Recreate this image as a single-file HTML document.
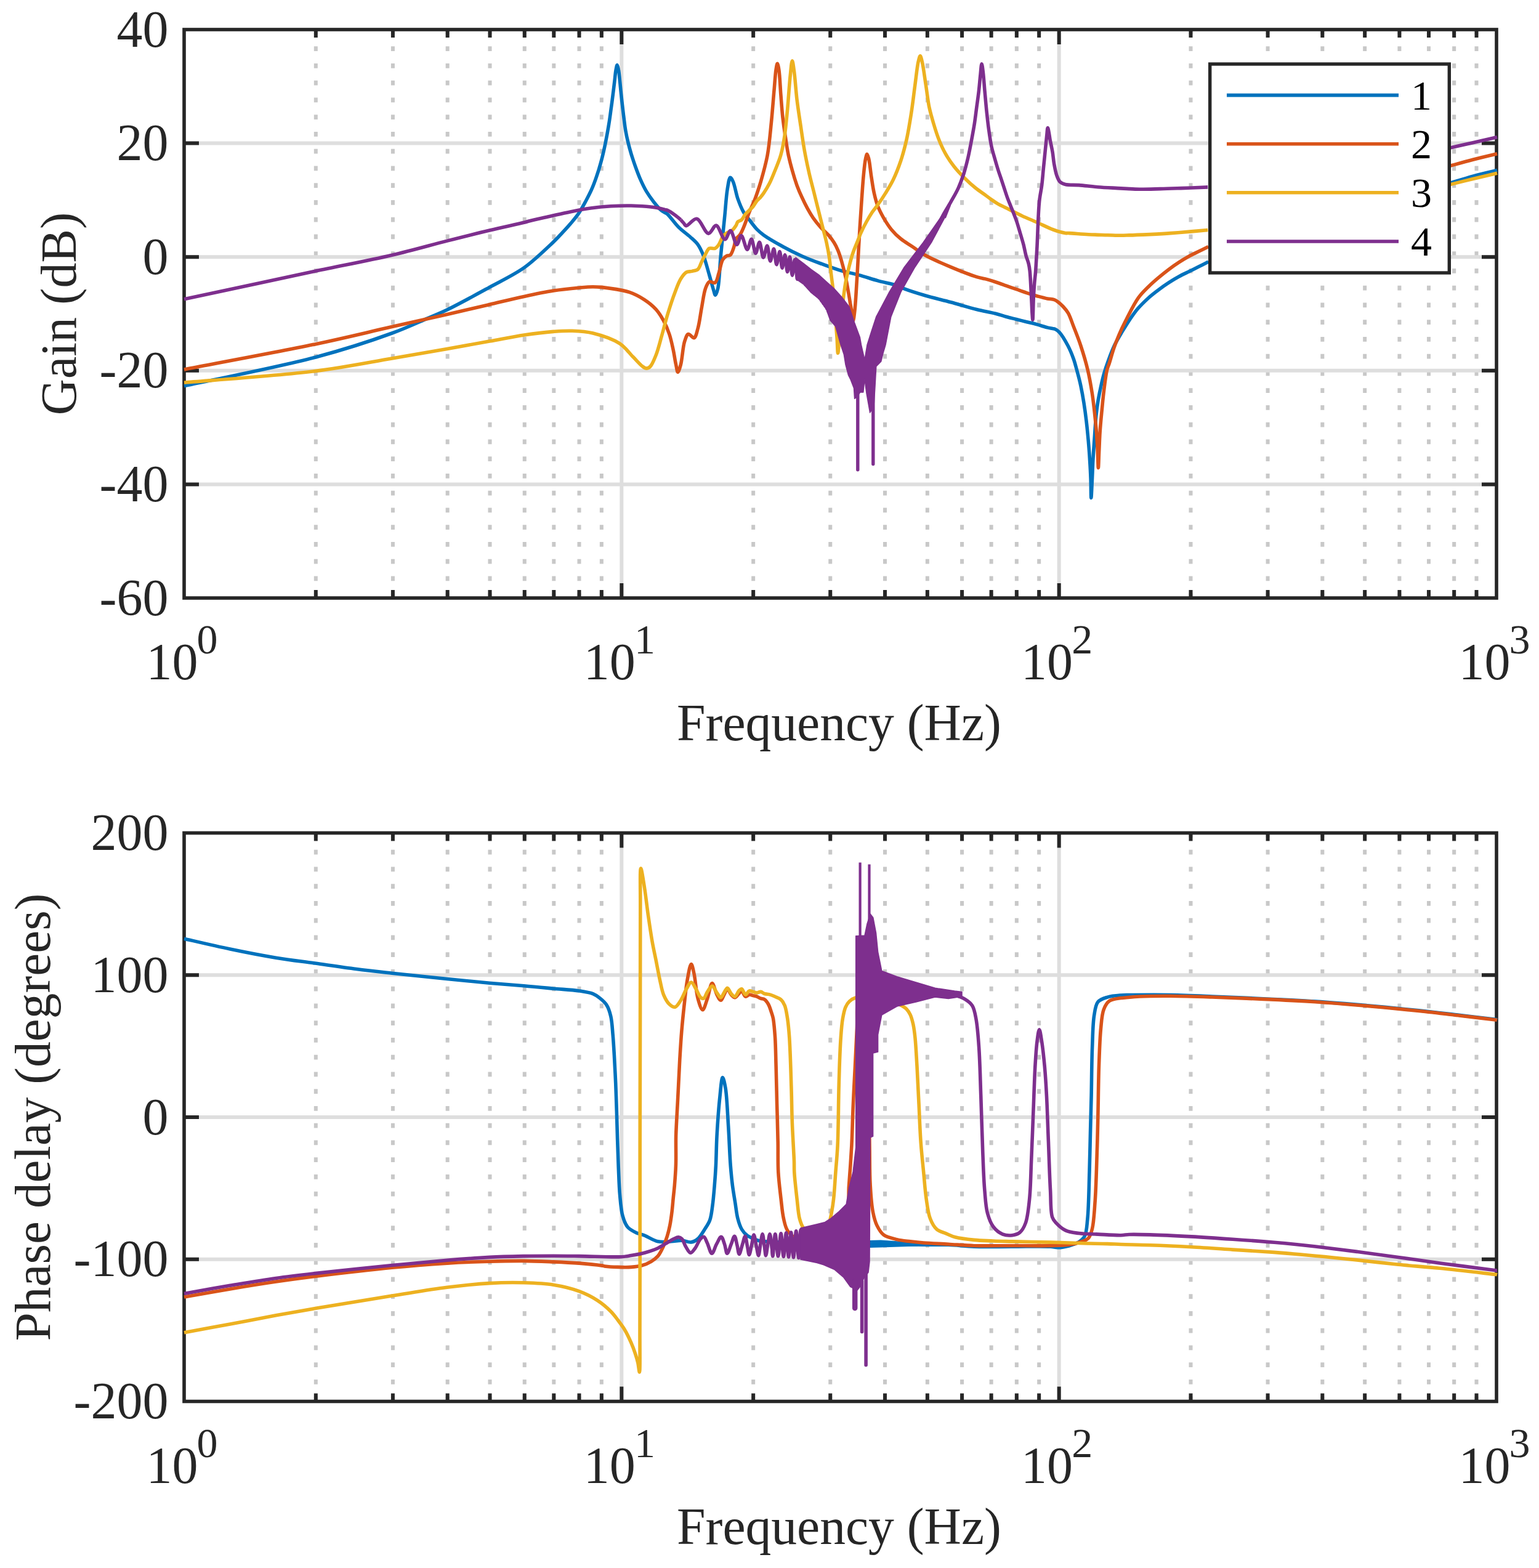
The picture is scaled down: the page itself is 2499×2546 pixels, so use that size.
<!DOCTYPE html>
<html><head><meta charset="utf-8"><style>
html,body{margin:0;padding:0;background:#fff;}
body{width:2499px;height:2546px;overflow:hidden;}
svg{display:block;}
.tl{font-family:"Liberation Serif","Times New Roman",serif;font-size:84px;fill:#262626;}
.sup{font-size:68px;}
.lg{font-family:"Liberation Serif","Times New Roman",serif;font-size:68px;fill:#000;}
</style></head><body>
<svg width="2499" height="2546" viewBox="0 0 2499 2546">
<rect width="2499" height="2546" fill="#ffffff"/>
<line x1="512.83" y1="47.50" x2="512.83" y2="971.00" stroke="#c8c8c8" stroke-width="6" stroke-dasharray="7.7 20.05"/>
<line x1="637.92" y1="47.50" x2="637.92" y2="971.00" stroke="#c8c8c8" stroke-width="6" stroke-dasharray="7.7 20.05"/>
<line x1="726.66" y1="47.50" x2="726.66" y2="971.00" stroke="#c8c8c8" stroke-width="6" stroke-dasharray="7.7 20.05"/>
<line x1="795.50" y1="47.50" x2="795.50" y2="971.00" stroke="#c8c8c8" stroke-width="6" stroke-dasharray="7.7 20.05"/>
<line x1="851.75" y1="47.50" x2="851.75" y2="971.00" stroke="#c8c8c8" stroke-width="6" stroke-dasharray="7.7 20.05"/>
<line x1="899.30" y1="47.50" x2="899.30" y2="971.00" stroke="#c8c8c8" stroke-width="6" stroke-dasharray="7.7 20.05"/>
<line x1="940.49" y1="47.50" x2="940.49" y2="971.00" stroke="#c8c8c8" stroke-width="6" stroke-dasharray="7.7 20.05"/>
<line x1="976.83" y1="47.50" x2="976.83" y2="971.00" stroke="#c8c8c8" stroke-width="6" stroke-dasharray="7.7 20.05"/>
<line x1="1223.16" y1="47.50" x2="1223.16" y2="971.00" stroke="#c8c8c8" stroke-width="6" stroke-dasharray="7.7 20.05"/>
<line x1="1348.25" y1="47.50" x2="1348.25" y2="971.00" stroke="#c8c8c8" stroke-width="6" stroke-dasharray="7.7 20.05"/>
<line x1="1437.00" y1="47.50" x2="1437.00" y2="971.00" stroke="#c8c8c8" stroke-width="6" stroke-dasharray="7.7 20.05"/>
<line x1="1505.84" y1="47.50" x2="1505.84" y2="971.00" stroke="#c8c8c8" stroke-width="6" stroke-dasharray="7.7 20.05"/>
<line x1="1562.08" y1="47.50" x2="1562.08" y2="971.00" stroke="#c8c8c8" stroke-width="6" stroke-dasharray="7.7 20.05"/>
<line x1="1609.63" y1="47.50" x2="1609.63" y2="971.00" stroke="#c8c8c8" stroke-width="6" stroke-dasharray="7.7 20.05"/>
<line x1="1650.83" y1="47.50" x2="1650.83" y2="971.00" stroke="#c8c8c8" stroke-width="6" stroke-dasharray="7.7 20.05"/>
<line x1="1687.16" y1="47.50" x2="1687.16" y2="971.00" stroke="#c8c8c8" stroke-width="6" stroke-dasharray="7.7 20.05"/>
<line x1="1933.50" y1="47.50" x2="1933.50" y2="971.00" stroke="#c8c8c8" stroke-width="6" stroke-dasharray="7.7 20.05"/>
<line x1="2058.58" y1="47.50" x2="2058.58" y2="971.00" stroke="#c8c8c8" stroke-width="6" stroke-dasharray="7.7 20.05"/>
<line x1="2147.33" y1="47.50" x2="2147.33" y2="971.00" stroke="#c8c8c8" stroke-width="6" stroke-dasharray="7.7 20.05"/>
<line x1="2216.17" y1="47.50" x2="2216.17" y2="971.00" stroke="#c8c8c8" stroke-width="6" stroke-dasharray="7.7 20.05"/>
<line x1="2272.41" y1="47.50" x2="2272.41" y2="971.00" stroke="#c8c8c8" stroke-width="6" stroke-dasharray="7.7 20.05"/>
<line x1="2319.97" y1="47.50" x2="2319.97" y2="971.00" stroke="#c8c8c8" stroke-width="6" stroke-dasharray="7.7 20.05"/>
<line x1="2361.16" y1="47.50" x2="2361.16" y2="971.00" stroke="#c8c8c8" stroke-width="6" stroke-dasharray="7.7 20.05"/>
<line x1="2397.50" y1="47.50" x2="2397.50" y2="971.00" stroke="#c8c8c8" stroke-width="6" stroke-dasharray="7.7 20.05"/>
<line x1="1009.33" y1="48.00" x2="1009.33" y2="971.00" stroke="#dedede" stroke-width="6"/>
<line x1="1719.67" y1="48.00" x2="1719.67" y2="971.00" stroke="#dedede" stroke-width="6"/>
<line x1="299.00" y1="232.60" x2="2430.00" y2="232.60" stroke="#dedede" stroke-width="6"/>
<line x1="299.00" y1="417.20" x2="2430.00" y2="417.20" stroke="#dedede" stroke-width="6"/>
<line x1="299.00" y1="601.80" x2="2430.00" y2="601.80" stroke="#dedede" stroke-width="6"/>
<line x1="299.00" y1="786.40" x2="2430.00" y2="786.40" stroke="#dedede" stroke-width="6"/>
<path d="M512.83 48.00V61.00M512.83 971.00V958.00M637.92 48.00V61.00M637.92 971.00V958.00M726.66 48.00V61.00M726.66 971.00V958.00M795.50 48.00V61.00M795.50 971.00V958.00M851.75 48.00V61.00M851.75 971.00V958.00M899.30 48.00V61.00M899.30 971.00V958.00M940.49 48.00V61.00M940.49 971.00V958.00M976.83 48.00V61.00M976.83 971.00V958.00M1009.33 48.00V72.00M1009.33 971.00V947.00M1223.16 48.00V61.00M1223.16 971.00V958.00M1348.25 48.00V61.00M1348.25 971.00V958.00M1437.00 48.00V61.00M1437.00 971.00V958.00M1505.84 48.00V61.00M1505.84 971.00V958.00M1562.08 48.00V61.00M1562.08 971.00V958.00M1609.63 48.00V61.00M1609.63 971.00V958.00M1650.83 48.00V61.00M1650.83 971.00V958.00M1687.16 48.00V61.00M1687.16 971.00V958.00M1719.67 48.00V72.00M1719.67 971.00V947.00M1933.50 48.00V61.00M1933.50 971.00V958.00M2058.58 48.00V61.00M2058.58 971.00V958.00M2147.33 48.00V61.00M2147.33 971.00V958.00M2216.17 48.00V61.00M2216.17 971.00V958.00M2272.41 48.00V61.00M2272.41 971.00V958.00M2319.97 48.00V61.00M2319.97 971.00V958.00M2361.16 48.00V61.00M2361.16 971.00V958.00M2397.50 48.00V61.00M2397.50 971.00V958.00M299.00 232.60H323.00M2430.00 232.60H2406.00M299.00 417.20H323.00M2430.00 417.20H2406.00M299.00 601.80H323.00M2430.00 601.80H2406.00M299.00 786.40H323.00M2430.00 786.40H2406.00" stroke="#262626" stroke-width="6" fill="none"/>
<rect x="299.00" y="48.00" width="2131.00" height="923.00" fill="none" stroke="#262626" stroke-width="5.6"/>
<g fill="none" stroke-width="5.6" stroke-linejoin="round" stroke-linecap="butt">
<path d="M299.0,626.8C334.4,619.0 450.4,596.4 511.6,580.2C559.0,567.6 603.0,553.3 636.5,541.0C659.6,532.6 677.9,523.8 694.3,516.8C706.4,511.6 713.5,509.0 726.0,503.0C744.7,494.0 773.2,478.3 795.0,466.4C814.7,455.7 834.1,446.6 850.9,434.8C866.5,423.7 882.3,408.2 893.0,398.3C899.9,391.9 904.0,387.5 909.5,381.8C915.0,376.0 920.9,369.6 926.0,363.7C930.7,358.1 935.1,353.1 939.2,347.2C943.4,341.0 947.1,334.0 950.7,327.4C954.2,320.8 957.6,314.4 960.6,307.6C963.7,300.7 966.4,293.3 968.8,286.1C971.3,279.0 973.5,271.7 975.4,264.7C977.3,258.0 978.9,251.5 980.4,244.9C981.9,238.3 983.2,232.0 984.5,225.1C985.9,217.7 987.4,209.7 988.6,202.0C989.9,194.4 990.9,186.8 991.9,179.0C993.1,170.8 994.2,162.5 995.2,154.2C996.3,146.0 997.3,136.9 998.2,129.5C998.9,123.4 999.3,117.4 1000.2,113.0C1000.8,110.0 1001.5,105.6 1002.2,105.6C1002.8,105.6 1003.7,109.8 1004.3,113.0C1005.4,118.2 1006.0,127.0 1006.8,134.4C1007.6,142.4 1008.3,150.7 1009.3,159.2C1010.2,168.2 1011.4,178.1 1012.5,187.2C1013.6,195.7 1014.5,204.2 1015.8,211.9C1017.0,218.9 1018.4,225.3 1020.0,231.7C1021.5,237.9 1023.1,243.7 1024.9,249.9C1026.9,256.3 1029.1,263.0 1031.5,269.7C1034.0,276.7 1036.7,284.2 1039.8,291.1C1042.8,297.9 1046.0,304.7 1049.7,310.9C1053.2,316.8 1057.2,322.3 1061.2,327.4C1064.9,332.1 1069.1,337.4 1072.7,340.6C1075.3,342.8 1078.0,344.2 1080.0,345.5C1081.4,346.4 1082.2,346.3 1083.7,347.6C1087.7,351.0 1095.8,362.9 1102.3,369.3C1108.2,375.1 1115.4,379.8 1120.8,384.7C1125.5,389.0 1129.7,392.2 1133.2,397.1C1137.0,402.4 1139.7,408.6 1142.5,415.7C1146.0,424.5 1149.0,437.2 1151.8,446.6C1154.1,454.5 1156.1,462.3 1157.9,468.3C1159.3,472.5 1160.4,479.1 1161.7,479.1C1162.9,479.1 1164.5,473.3 1165.7,468.3C1168.1,457.4 1168.6,433.9 1170.3,415.7C1172.2,395.9 1174.6,373.0 1176.5,353.8C1178.2,337.2 1179.1,319.5 1181.1,307.4C1182.5,299.6 1183.7,288.6 1185.8,288.2C1187.1,288.0 1188.9,291.9 1190.4,295.1C1193.2,301.1 1195.1,314.3 1198.1,322.9C1200.9,330.7 1203.9,338.5 1207.4,344.5C1210.3,349.4 1213.4,352.6 1216.7,356.9C1220.5,361.8 1224.9,368.0 1229.1,372.4C1232.7,376.1 1235.3,378.2 1240.0,381.7C1247.5,387.1 1260.5,394.5 1270.9,400.2C1281.1,405.8 1291.4,411.0 1301.9,415.7C1312.1,420.3 1322.4,424.2 1332.8,428.0C1343.1,431.9 1353.3,435.8 1363.7,438.9C1374.0,441.9 1384.4,443.8 1394.6,446.6C1405.0,449.4 1415.2,453.0 1425.6,455.9C1435.8,458.7 1448.7,460.9 1456.5,463.6C1461.5,465.3 1463.4,467.0 1468.4,468.9C1476.7,472.1 1490.1,476.3 1502.0,479.8C1515.2,483.7 1530.0,487.0 1544.0,490.8C1558.0,494.6 1573.0,499.3 1586.0,502.5C1597.0,505.2 1608.1,506.9 1616.8,509.2C1623.3,510.9 1628.0,512.7 1633.6,514.3C1639.2,515.8 1644.8,517.1 1650.4,518.5C1656.0,519.9 1661.6,521.3 1667.2,522.7C1672.8,524.1 1678.4,525.4 1684.0,526.9C1689.6,528.4 1696.1,530.7 1700.8,531.9C1704.1,532.7 1706.9,533.1 1709.2,533.6C1710.8,533.9 1711.9,533.8 1713.4,534.5C1715.4,535.4 1717.7,536.8 1720.0,539.3C1724.2,543.7 1730.0,553.6 1733.9,561.0C1737.7,568.1 1740.7,575.7 1743.2,582.7C1745.5,589.1 1746.8,594.7 1748.6,601.3C1750.7,608.9 1753.0,617.4 1754.8,625.9C1756.7,634.9 1758.4,644.2 1759.9,653.7C1761.5,663.7 1762.9,674.3 1764.1,684.6C1765.3,694.9 1766.3,705.3 1767.2,715.6C1768.1,725.9 1768.9,736.2 1769.5,746.5C1770.2,756.8 1770.7,767.2 1771.1,777.5C1771.5,787.8 1771.4,808.4 1771.8,808.4C1772.2,808.4 1772.9,789.6 1773.4,779.4C1774.0,768.2 1774.3,755.7 1775.0,743.9C1775.7,732.0 1776.6,720.0 1777.4,708.3C1778.2,697.0 1778.7,685.5 1779.8,675.1C1780.8,665.9 1781.9,657.5 1783.3,649.0C1784.7,640.9 1786.4,632.7 1788.1,625.3C1789.6,618.6 1790.9,612.8 1792.8,606.3C1794.8,599.4 1797.2,592.2 1799.9,585.0C1802.7,577.3 1805.8,568.9 1809.4,561.3C1812.9,553.9 1816.9,547.3 1821.3,539.9C1826.3,531.6 1832.8,521.0 1837.9,513.8C1841.7,508.4 1844.3,504.8 1848.4,500.2C1853.1,494.8 1859.3,488.8 1864.9,483.7C1870.3,478.9 1875.8,474.7 1881.4,470.5C1886.8,466.4 1892.3,462.5 1897.9,458.9C1903.3,455.4 1908.8,452.0 1914.4,449.0C1919.8,446.0 1925.4,443.5 1930.9,440.8C1936.4,438.0 1942.0,435.2 1947.4,432.5C1952.5,430.0 1959.7,426.3 1962.2,425.1" stroke="#0072BD"/>
<path d="M2354.6,297.2C2360.8,295.4 2379.2,289.5 2391.6,286.1C2403.9,282.8 2423.5,278.3 2428.6,277.1C2429.9,276.7 2430.6,276.6 2431.0,276.5" stroke="#0072BD"/>
<path d="M299.0,599.9C334.4,593.1 450.2,571.8 511.6,558.9C558.8,549.0 598.3,539.2 636.5,530.6C668.8,523.3 698.1,516.8 726.0,510.5C750.5,504.8 773.2,499.5 795.0,494.4C814.6,489.8 832.9,485.2 850.9,481.4C867.4,477.8 883.2,474.4 898.6,472.0C913.0,469.8 928.6,468.3 940.4,467.2C949.0,466.4 956.1,465.7 962.8,465.7C968.0,465.7 970.9,465.8 976.9,466.4C987.7,467.7 1009.3,470.3 1021.9,474.4C1031.6,477.7 1039.2,482.0 1046.6,486.8C1053.5,491.3 1059.9,496.5 1065.2,502.3C1070.2,507.9 1074.0,514.2 1077.5,520.8C1081.2,527.6 1084.3,534.9 1086.8,542.5C1089.5,550.4 1091.2,558.9 1093.0,567.2C1094.8,575.4 1096.1,585.2 1097.6,592.0C1098.7,596.8 1099.5,604.3 1100.7,604.3C1102.0,604.4 1103.9,597.3 1105.4,592.0C1107.8,583.0 1108.7,563.8 1111.5,554.9C1113.3,549.5 1114.9,543.2 1117.7,542.5C1120.2,541.8 1124.6,549.4 1127.0,548.7C1130.0,547.7 1131.4,539.5 1133.2,533.2C1135.8,524.2 1137.3,510.2 1139.4,499.2C1141.4,488.6 1142.8,475.8 1145.6,468.3C1147.3,463.5 1148.9,458.8 1151.8,457.4C1154.2,456.2 1158.6,460.3 1161.0,459.0C1164.3,457.2 1165.3,449.2 1167.2,443.5C1169.5,437.0 1170.6,426.7 1173.4,421.9C1175.2,418.9 1177.3,416.9 1179.6,415.7C1181.5,414.6 1184.0,415.6 1185.8,414.1C1188.5,411.8 1190.4,404.8 1192.0,400.2C1193.4,396.0 1193.2,391.1 1195.1,387.8C1196.6,385.2 1199.4,384.3 1201.2,381.7C1203.6,378.4 1205.3,374.2 1207.4,369.3C1210.4,362.5 1213.5,352.5 1216.7,344.5C1219.7,337.0 1223.0,330.6 1226.0,322.9C1229.3,314.3 1232.2,305.4 1235.3,295.1C1239.0,282.3 1243.4,267.0 1246.2,251.8C1249.2,235.2 1250.6,216.7 1252.4,199.2C1254.2,181.7 1255.6,162.2 1257.0,146.6C1258.1,134.0 1258.9,120.3 1260.1,112.6C1260.8,108.5 1261.5,103.3 1262.3,103.3C1263.0,103.3 1264.0,108.4 1264.7,112.6C1266.2,121.2 1266.8,139.7 1267.8,152.8C1268.8,165.4 1269.6,177.8 1270.9,189.9C1272.2,201.5 1273.9,213.2 1275.6,223.9C1277.0,233.7 1278.3,242.8 1280.2,251.8C1282.0,260.3 1284.1,268.3 1286.4,276.5C1288.7,284.8 1291.4,293.6 1294.1,301.2C1296.6,307.9 1299.0,313.7 1301.9,319.8C1304.7,326.0 1307.9,332.5 1311.1,338.4C1314.1,343.8 1316.9,348.8 1320.4,353.8C1324.1,359.1 1328.5,364.5 1332.8,369.3C1336.8,373.8 1341.5,377.4 1345.2,381.7C1348.6,385.7 1351.8,389.8 1354.4,394.0C1356.9,398.0 1358.7,401.8 1360.6,406.4C1362.9,411.9 1364.9,418.3 1366.8,425.0C1369.0,432.6 1371.2,441.4 1373.0,449.7C1374.8,457.9 1376.3,466.8 1377.6,474.4C1378.8,481.1 1379.7,486.8 1380.7,493.0C1381.8,499.2 1383.0,506.4 1383.8,511.6C1384.4,515.2 1384.8,520.8 1385.4,520.8C1386.1,520.8 1387.1,511.3 1387.8,505.4C1388.8,497.5 1389.3,488.3 1390.0,477.5C1391.0,462.8 1392.1,442.7 1393.1,425.0C1394.1,406.7 1395.1,387.0 1396.2,369.3C1397.2,353.1 1398.2,337.8 1399.3,322.9C1400.3,309.0 1401.2,294.5 1402.4,282.7C1403.3,273.4 1404.2,263.8 1405.5,257.9C1406.2,254.6 1407.1,250.2 1407.9,250.2C1408.8,250.2 1409.9,254.5 1410.7,257.9C1412.3,264.3 1413.3,276.5 1414.7,285.8C1416.2,295.1 1417.4,305.0 1419.4,313.6C1421.1,321.3 1422.9,328.4 1425.6,335.3C1428.1,341.8 1431.3,347.7 1434.8,353.8C1438.5,360.1 1442.6,366.7 1447.2,372.4C1451.8,378.0 1457.0,383.2 1462.7,387.8C1468.4,392.5 1474.9,395.9 1481.2,400.2C1488.0,404.7 1493.6,409.6 1502.0,414.3C1513.3,420.7 1529.9,427.7 1544.0,433.6C1557.9,439.4 1575.7,446.4 1586.0,449.6C1591.8,451.4 1595.1,451.6 1600.0,452.9C1605.4,454.3 1611.2,456.2 1616.8,458.0C1622.4,459.8 1628.0,461.9 1633.6,463.9C1639.2,465.8 1644.8,467.8 1650.4,469.7C1656.0,471.7 1661.6,473.8 1667.2,475.6C1672.8,477.4 1678.4,479.1 1684.0,480.7C1689.6,482.2 1695.8,483.9 1700.8,484.9C1704.8,485.7 1708.8,485.6 1711.8,486.6C1714.1,487.4 1715.6,488.4 1717.6,489.9C1720.2,491.8 1723.3,494.6 1726.0,497.5C1729.0,500.7 1731.9,503.9 1734.5,508.4C1737.8,514.2 1740.1,522.1 1743.2,530.0C1746.8,539.4 1751.1,549.9 1754.8,561.0C1758.9,573.5 1763.3,588.1 1766.4,601.3C1769.4,613.9 1771.5,626.7 1773.4,638.6C1775.1,649.4 1776.1,659.3 1777.3,669.6C1778.4,679.9 1779.5,690.3 1780.3,700.6C1781.1,710.9 1781.7,721.4 1782.2,731.5C1782.7,741.1 1783.0,759.6 1783.4,759.6C1783.8,759.6 1784.2,741.1 1784.7,731.5C1785.2,721.4 1785.5,710.9 1786.2,700.6C1786.9,690.3 1787.9,679.9 1788.9,669.6C1789.9,659.3 1790.7,649.4 1792.0,638.6C1793.5,626.7 1795.3,610.0 1797.4,601.3C1798.5,596.5 1799.7,594.7 1801.1,590.3C1803.2,583.7 1805.9,573.6 1808.6,565.6C1811.2,557.9 1814.1,550.6 1817.2,543.3C1820.3,536.1 1823.0,530.3 1827.1,522.3C1832.7,511.3 1841.1,493.9 1848.4,483.7C1853.8,476.1 1859.3,471.1 1864.9,465.5C1870.3,460.2 1875.8,455.4 1881.4,450.7C1886.8,446.1 1892.3,441.7 1897.9,437.5C1903.3,433.4 1908.8,429.5 1914.4,425.9C1919.8,422.4 1925.3,419.0 1930.9,416.0C1936.3,413.0 1942.1,410.5 1947.4,407.8C1952.5,405.3 1959.7,401.6 1962.2,400.4" stroke="#D95319"/>
<path d="M2354.6,269.3C2360.8,267.6 2379.3,262.4 2391.6,259.2C2403.9,256.1 2423.5,251.4 2428.6,250.2C2429.9,249.9 2430.6,249.7 2431.0,249.6" stroke="#D95319"/>
<path d="M299.0,621.2C334.4,618.1 450.2,610.3 511.6,602.6C558.8,596.6 598.3,588.5 636.5,582.0C668.8,576.6 698.1,571.3 726.0,566.4C750.5,562.1 773.2,558.0 795.0,554.1C814.6,550.6 832.9,546.7 850.9,544.0C867.4,541.6 884.5,539.5 898.6,538.4C909.9,537.6 918.8,536.9 929.2,537.3C940.1,537.7 951.0,538.2 962.8,541.0C976.6,544.4 995.0,550.5 1006.4,557.9C1015.6,564.0 1021.4,573.0 1028.0,579.6C1033.6,585.2 1039.3,592.0 1043.5,595.1C1045.9,596.8 1047.6,598.1 1049.7,598.1C1051.8,598.1 1053.9,597.0 1055.9,595.1C1059.3,591.7 1062.3,583.6 1065.2,576.5C1068.7,567.6 1071.4,556.1 1074.4,545.6C1077.6,534.5 1080.2,523.1 1083.7,511.6C1087.4,499.4 1092.0,485.1 1096.1,474.4C1099.2,466.2 1101.8,458.6 1105.4,452.8C1108.2,448.3 1111.2,443.9 1114.6,442.0C1117.5,440.4 1120.9,441.2 1123.9,440.4C1127.0,439.6 1130.7,439.5 1133.2,437.3C1136.1,434.8 1137.3,429.1 1139.4,425.0C1141.4,420.8 1143.4,416.3 1145.6,412.6C1147.5,409.2 1149.0,404.8 1151.8,403.3C1154.3,402.0 1158.4,404.4 1161.0,403.3C1163.6,402.3 1165.3,399.7 1167.2,397.1C1169.6,393.8 1171.0,388.0 1173.4,384.7C1175.3,382.1 1177.2,380.3 1179.6,378.6C1182.2,376.6 1186.3,376.0 1188.9,373.9C1191.4,371.9 1193.4,368.7 1195.1,366.2C1196.4,364.1 1196.6,361.5 1198.1,360.0C1199.7,358.5 1202.5,358.6 1204.3,356.9C1206.7,354.8 1208.3,350.3 1210.5,347.6C1212.5,345.3 1214.6,343.5 1216.7,341.4C1218.8,339.4 1220.9,337.6 1222.9,335.3C1225.1,332.6 1226.9,328.7 1229.1,326.0C1231.0,323.6 1233.4,321.9 1235.3,319.8C1237.0,317.8 1238.2,316.2 1240.0,313.6C1242.7,309.7 1246.4,303.8 1249.3,298.1C1252.6,291.6 1255.5,284.0 1258.6,276.5C1261.7,268.6 1265.3,260.6 1267.8,251.8C1270.6,242.1 1272.3,232.0 1274.0,220.8C1276.0,207.6 1277.2,192.9 1278.7,177.5C1280.3,160.1 1281.7,136.4 1283.3,121.9C1284.3,112.4 1285.3,98.7 1286.4,98.7C1287.4,98.6 1288.5,108.6 1289.5,115.7C1291.1,127.3 1292.3,146.9 1294.1,162.1C1295.9,176.8 1298.2,191.2 1300.3,205.4C1302.3,219.0 1304.1,232.5 1306.5,245.6C1308.8,258.2 1311.5,270.9 1314.2,282.7C1316.7,293.5 1319.4,303.3 1322.0,313.6C1324.5,323.9 1327.3,334.8 1329.7,344.5C1331.9,353.2 1333.8,361.0 1335.9,369.3C1337.9,377.5 1340.3,385.7 1342.1,394.0C1343.9,402.2 1345.4,410.3 1346.7,418.8C1348.0,427.7 1348.7,437.6 1349.8,446.6C1350.8,455.1 1351.9,462.3 1352.9,471.3C1354.0,482.5 1355.0,495.8 1356.0,508.5C1357.0,521.6 1358.3,536.9 1359.1,548.7C1359.7,557.9 1359.9,573.4 1360.6,573.4C1361.4,573.4 1362.5,551.6 1363.7,539.4C1365.1,525.1 1366.7,507.2 1368.4,493.0C1369.8,480.8 1371.1,469.7 1373.0,459.0C1374.7,449.2 1377.0,439.8 1379.2,431.1C1381.1,423.4 1383.1,416.0 1385.4,409.5C1387.3,403.8 1389.5,399.2 1391.5,394.0C1393.6,388.9 1395.3,383.9 1397.7,378.6C1400.4,372.6 1403.8,365.8 1407.0,360.0C1410.0,354.6 1413.1,349.3 1416.3,344.5C1419.3,340.1 1422.3,336.8 1425.6,332.2C1429.5,326.7 1433.9,320.1 1437.9,313.6C1442.2,306.7 1446.4,300.0 1450.3,292.0C1454.8,282.7 1459.1,271.7 1462.7,261.0C1466.4,250.1 1469.2,239.1 1472.0,227.0C1475.0,213.5 1477.4,198.4 1479.7,183.7C1482.1,168.5 1483.9,151.9 1485.9,137.3C1487.7,124.3 1489.2,108.4 1491.1,100.2C1492.1,96.0 1493.2,90.9 1494.2,90.9C1495.3,90.9 1496.3,96.0 1497.3,100.2C1499.4,108.6 1501.5,126.3 1503.5,138.9C1505.4,150.9 1506.6,163.1 1508.8,173.9C1510.8,183.4 1513.2,191.5 1515.8,200.2C1518.4,209.0 1521.2,218.1 1524.5,226.5C1527.6,234.4 1530.9,241.9 1535.0,249.2C1539.1,256.5 1543.9,263.6 1549.1,270.3C1554.4,277.1 1560.6,283.5 1566.6,289.5C1572.3,295.2 1578.3,300.6 1584.1,305.3C1589.4,309.6 1595.3,313.3 1600.0,316.7C1603.8,319.5 1606.8,322.0 1610.3,324.4C1613.7,326.8 1617.1,329.1 1620.6,331.1C1624.0,333.0 1627.5,334.6 1630.9,336.3C1634.3,338.0 1637.8,339.7 1641.2,341.4C1644.6,343.1 1648.2,345.0 1651.5,346.6C1654.5,348.1 1656.4,349.1 1660.0,350.7C1665.9,353.4 1675.5,357.4 1683.6,361.0C1692.3,364.8 1702.1,370.0 1710.4,373.0C1717.3,375.5 1725.2,377.7 1730.0,378.4C1732.7,378.8 1733.5,378.4 1736.5,378.6C1743.0,378.9 1757.1,380.2 1767.4,380.7C1777.7,381.2 1789.0,381.4 1798.4,381.7C1806.2,381.9 1813.6,382.3 1820.0,382.3C1825.1,382.3 1828.1,382.1 1833.6,381.9C1842.3,381.7 1856.0,381.1 1867.2,380.6C1878.4,380.0 1889.6,379.4 1900.8,378.6C1912.0,377.8 1923.9,376.8 1934.5,375.9C1943.9,375.1 1956.9,373.9 1961.3,373.5" stroke="#EDB120"/>
<path d="M2354.6,299.6C2360.8,298.1 2379.3,293.5 2391.6,290.5C2403.9,287.5 2423.5,283.0 2428.6,281.8C2429.9,281.5 2430.6,281.3 2431.0,281.2" stroke="#EDB120"/>
<path d="M299.0,485.8C334.4,478.3 450.0,453.4 511.6,440.3C558.7,430.4 598.4,423.1 636.5,414.2C668.9,406.7 698.1,398.2 726.0,391.1C750.4,384.9 773.1,379.2 795.0,374.0C814.6,369.3 840.2,364.0 850.9,361.3C855.2,360.2 856.0,359.7 860.0,358.7C867.6,356.8 882.0,353.8 893.0,351.3C904.0,348.8 914.9,346.1 926.0,343.9C936.9,341.7 947.9,339.6 959.0,338.1C969.9,336.6 980.9,335.5 991.9,334.8C1002.9,334.1 1014.7,333.8 1024.9,334.0C1033.8,334.1 1042.3,334.7 1049.7,335.3C1055.7,335.8 1060.9,336.3 1066.1,337.3C1071.0,338.1 1076.9,339.8 1080.0,340.6C1081.6,341.0 1082.2,340.8 1083.7,341.4C1086.7,342.7 1092.3,346.5 1096.1,349.2C1099.5,351.6 1103.8,355.6 1105.4,356.9" stroke="#7E2F8E"/>
<path d="M1520.0,372.0C1521.8,368.3 1527.1,357.3 1531.0,350.0C1535.0,342.6 1539.6,335.5 1543.8,328.1C1548.0,320.6 1552.6,313.0 1556.1,305.3C1559.5,297.8 1562.2,290.4 1564.8,282.5C1567.5,274.1 1569.7,265.1 1571.8,256.3C1573.8,247.6 1575.4,239.1 1577.1,230.0C1578.9,220.4 1580.9,209.8 1582.4,200.2C1583.8,191.2 1584.7,182.7 1585.9,173.9C1587.1,165.1 1588.4,156.4 1589.4,147.6C1590.4,138.8 1591.1,129.2 1592.0,121.3C1592.7,114.9 1593.3,103.8 1594.1,103.8C1594.8,103.8 1595.7,112.2 1596.4,117.8C1597.4,125.9 1598.1,137.5 1599.0,147.6C1600.0,158.2 1600.9,169.4 1602.0,180.0C1603.1,190.2 1604.1,200.2 1605.5,210.0C1606.8,219.5 1608.1,229.3 1610.0,238.0C1611.7,245.8 1614.1,253.3 1616.0,260.0C1617.6,265.6 1619.0,270.4 1620.6,275.5C1622.2,280.7 1624.1,285.8 1625.8,290.9C1627.5,296.1 1629.2,301.2 1630.9,306.4C1632.6,311.6 1634.3,317.0 1636.1,321.9C1637.7,326.4 1639.5,330.4 1641.2,334.7C1642.9,339.0 1644.7,343.3 1646.4,347.6C1648.0,351.8 1649.5,355.4 1651.0,360.0C1652.9,365.7 1654.9,373.0 1656.8,379.3C1658.6,385.4 1660.4,391.3 1662.0,397.3C1663.5,403.3 1664.6,409.9 1666.1,415.4C1667.4,420.0 1669.2,423.8 1670.2,428.0C1671.2,432.0 1671.6,434.7 1672.2,440.0C1673.3,450.0 1674.1,471.4 1674.8,484.0C1675.3,493.6 1675.6,502.7 1676.0,509.2C1676.3,513.3 1676.6,519.3 1676.9,519.3C1677.4,519.3 1677.7,494.8 1678.2,484.0C1678.7,474.9 1679.2,466.3 1679.8,458.8C1680.3,452.6 1681.0,447.9 1681.5,442.0C1682.0,435.4 1682.4,428.0 1682.8,421.0C1683.2,414.0 1683.5,409.1 1684.0,400.0C1684.9,383.1 1685.8,345.8 1687.6,327.5C1688.7,316.3 1690.6,309.6 1691.7,300.6C1692.8,291.7 1693.4,282.7 1694.3,273.8C1695.2,264.9 1696.1,255.9 1697.0,247.0C1697.9,238.1 1698.9,227.5 1699.7,220.2C1700.3,215.2 1700.6,207.5 1701.3,207.5C1701.8,207.5 1702.5,211.5 1703.0,214.0C1703.8,217.6 1704.2,222.1 1705.1,226.9C1706.2,232.9 1708.0,240.3 1709.1,247.0C1710.2,253.7 1710.6,260.7 1711.8,267.1C1712.9,273.2 1714.0,279.6 1715.8,284.6C1717.3,288.7 1718.6,292.8 1721.2,295.3C1723.5,297.6 1726.3,298.6 1730.0,299.5C1735.6,300.9 1744.0,300.0 1752.0,300.6C1761.4,301.3 1772.1,302.9 1782.9,303.7C1794.7,304.6 1810.7,305.3 1820.0,305.9C1825.7,306.2 1828.8,306.4 1833.6,306.6C1838.9,306.9 1843.9,307.2 1850.4,307.3C1859.7,307.4 1872.8,306.9 1884.0,306.6C1895.2,306.4 1905.7,306.0 1917.6,305.6C1931.3,305.2 1954.1,304.2 1961.3,303.9" stroke="#7E2F8E"/>
<path d="M2354.6,240.1C2360.8,238.7 2379.3,234.5 2391.6,231.7C2403.9,228.9 2423.5,224.4 2428.6,223.3C2429.9,223.0 2430.6,222.8 2431.0,222.7" stroke="#7E2F8E"/>
<path d="M1105.4,356.9C1106.2,357.8 1108.5,360.3 1110.0,362.0C1111.4,363.6 1112.2,366.4 1114.2,366.6C1117.8,367.0 1125.7,354.5 1131.2,355.3C1137.9,356.3 1144.7,378.9 1150.5,379.1C1155.0,379.3 1158.9,365.7 1162.9,366.1C1167.8,366.6 1172.9,388.8 1177.1,388.8C1180.5,388.8 1183.3,374.4 1186.2,374.6C1189.8,374.9 1193.2,397.2 1196.4,397.3C1199.0,397.3 1201.2,382.4 1203.7,382.5C1206.8,382.6 1210.5,405.2 1213.4,405.2C1215.9,405.2 1218.1,388.1 1220.2,388.2C1222.6,388.3 1224.7,411.3 1227.0,411.4C1229.0,411.4 1231.3,393.2 1233.2,393.3C1235.5,393.4 1237.3,418.1 1239.5,418.2C1241.5,418.3 1243.9,398.9 1245.7,399.0C1247.7,399.1 1248.9,423.8 1250.8,423.9C1252.5,424.0 1254.9,404.0 1256.5,404.1C1258.3,404.2 1259.3,429.5 1261.0,429.6C1262.5,429.6 1264.6,408.5 1266.1,408.6C1267.7,408.7 1268.6,435.2 1270.1,435.2C1271.5,435.2 1273.3,413.7 1274.6,413.7C1276.1,413.7 1277.2,441.5 1278.6,441.5C1279.9,441.5 1281.2,417.1 1282.5,417.1C1283.9,417.1 1285.1,447.1 1286.5,447.1C1287.8,447.1 1289.2,421.6 1290.5,421.6C1292.0,421.6 1293.6,453.4 1295.0,453.4C1296.3,453.4 1297.4,426.8 1298.5,426.8C1299.7,426.8 1300.7,456.5 1301.8,456.5C1302.8,456.5 1304.0,432.8 1304.9,432.8C1306.0,432.8 1306.9,462.0 1307.9,462.0C1308.8,462.1 1309.8,437.4 1310.7,437.4C1311.7,437.4 1312.5,467.9 1313.4,467.9C1314.2,468.0 1315.1,441.6 1315.9,441.6C1316.7,441.6 1317.5,473.0 1318.3,473.0C1319.0,473.0 1319.8,445.0 1320.6,445.0C1321.3,445.0 1322.0,476.6 1322.8,476.6C1323.4,476.6 1324.2,448.0 1324.8,448.0C1325.5,448.0 1326.2,479.8 1326.8,479.8C1327.5,479.8 1328.1,450.7 1328.7,450.7C1329.4,450.7 1329.9,483.5 1330.5,483.5C1331.1,483.5 1331.7,453.7 1332.3,453.7C1332.9,453.7 1333.4,488.2 1334.0,488.2C1334.5,488.2 1335.0,456.7 1335.6,456.7C1336.1,456.7 1336.6,492.6 1337.1,492.6C1337.6,492.6 1338.1,459.5 1338.6,459.5C1339.1,459.5 1339.5,496.7 1340.0,496.7C1340.4,496.7 1340.9,462.0 1341.4,462.0C1341.8,462.0 1342.2,501.0 1342.7,501.0C1343.1,501.0 1343.5,464.3 1343.9,464.3C1344.4,464.3 1344.7,506.1 1345.2,506.1C1345.5,506.1 1346.0,466.4 1346.3,466.4C1346.7,466.4 1347.1,510.8 1347.5,510.8C1347.8,510.8 1348.2,468.4 1348.6,468.4C1348.9,468.4 1349.3,515.2 1349.6,515.2C1350.0,515.2 1350.3,470.2 1350.6,470.2C1351.0,470.2 1351.3,519.3 1351.6,519.3C1352.0,519.3 1352.4,479.9 1352.6,472.0" stroke="#7E2F8E"/>
<polygon points="1292.0,418.0 1304.7,427.5 1317.1,437.4 1329.5,446.0 1341.8,457.2 1354.2,468.3 1366.6,481.9 1378.9,498.0 1387.6,524.0 1396.3,547.4 1398.5,560.0 1404.0,583.8 1408.0,560.0 1415.0,538.0 1422.7,514.4 1444.0,474.2 1468.2,434.0 1499.0,393.8 1531.0,348.0 1536.0,350.0 1512.4,393.8 1485.6,434.0 1462.9,474.2 1446.8,514.4 1438.0,560.0 1434.0,573.6 1430.7,587.0 1422.8,595.0 1421.0,627.0 1419.0,660.0 1412.6,670.0 1406.9,638.0 1404.0,615.6 1401.8,637.0 1396.7,637.0 1391.0,645.0 1387.6,647.3 1386.5,630.3 1380.8,615.6 1377.4,608.8 1372.9,591.7 1370.3,575.4 1365.3,560.6 1356.7,530.0 1348.0,520.0 1341.8,502.4 1329.5,485.1 1317.1,475.2 1304.7,461.6 1292.4,453.0" fill="#7E2F8E" stroke="#7E2F8E" stroke-width="1.5" stroke-linejoin="round"/>
<path d="M1392.8,640V762.7M1417.8,640V753.6" stroke="#7E2F8E" stroke-width="5.4" stroke-linecap="round"/>
<path d="M1533.2,353.6 L1541.6,332.2" stroke="#7E2F8E"/>
</g>
<text x="273.5" y="75.50" text-anchor="end" class="tl">40</text>
<text x="273.5" y="260.10" text-anchor="end" class="tl">20</text>
<text x="273.5" y="444.70" text-anchor="end" class="tl">0</text>
<text x="273.5" y="629.30" text-anchor="end" class="tl">-20</text>
<text x="273.5" y="813.90" text-anchor="end" class="tl">-40</text>
<text x="273.5" y="998.50" text-anchor="end" class="tl">-60</text>
<text x="237.40" y="1103.00" class="tl">10<tspan class="sup" dx="-1.8" dy="-42">0</tspan></text>
<text x="947.73" y="1103.00" class="tl">10<tspan class="sup" dx="-1.8" dy="-42">1</tspan></text>
<text x="1658.07" y="1103.00" class="tl">10<tspan class="sup" dx="-1.8" dy="-42">2</tspan></text>
<text x="2368.40" y="1103.00" class="tl">10<tspan class="sup" dx="-1.8" dy="-42">3</tspan></text>
<text x="1362.5" y="1202.00" text-anchor="middle" class="tl" style="font-size:83.6px">Frequency (Hz)</text>
<text transform="translate(123 509.50) rotate(-90)" text-anchor="middle" class="tl" style="font-size:81.8px">Gain (dB)</text>
<line x1="512.83" y1="1352.00" x2="512.83" y2="2275.50" stroke="#c8c8c8" stroke-width="6" stroke-dasharray="7.7 20.05"/>
<line x1="637.92" y1="1352.00" x2="637.92" y2="2275.50" stroke="#c8c8c8" stroke-width="6" stroke-dasharray="7.7 20.05"/>
<line x1="726.66" y1="1352.00" x2="726.66" y2="2275.50" stroke="#c8c8c8" stroke-width="6" stroke-dasharray="7.7 20.05"/>
<line x1="795.50" y1="1352.00" x2="795.50" y2="2275.50" stroke="#c8c8c8" stroke-width="6" stroke-dasharray="7.7 20.05"/>
<line x1="851.75" y1="1352.00" x2="851.75" y2="2275.50" stroke="#c8c8c8" stroke-width="6" stroke-dasharray="7.7 20.05"/>
<line x1="899.30" y1="1352.00" x2="899.30" y2="2275.50" stroke="#c8c8c8" stroke-width="6" stroke-dasharray="7.7 20.05"/>
<line x1="940.49" y1="1352.00" x2="940.49" y2="2275.50" stroke="#c8c8c8" stroke-width="6" stroke-dasharray="7.7 20.05"/>
<line x1="976.83" y1="1352.00" x2="976.83" y2="2275.50" stroke="#c8c8c8" stroke-width="6" stroke-dasharray="7.7 20.05"/>
<line x1="1223.16" y1="1352.00" x2="1223.16" y2="2275.50" stroke="#c8c8c8" stroke-width="6" stroke-dasharray="7.7 20.05"/>
<line x1="1348.25" y1="1352.00" x2="1348.25" y2="2275.50" stroke="#c8c8c8" stroke-width="6" stroke-dasharray="7.7 20.05"/>
<line x1="1437.00" y1="1352.00" x2="1437.00" y2="2275.50" stroke="#c8c8c8" stroke-width="6" stroke-dasharray="7.7 20.05"/>
<line x1="1505.84" y1="1352.00" x2="1505.84" y2="2275.50" stroke="#c8c8c8" stroke-width="6" stroke-dasharray="7.7 20.05"/>
<line x1="1562.08" y1="1352.00" x2="1562.08" y2="2275.50" stroke="#c8c8c8" stroke-width="6" stroke-dasharray="7.7 20.05"/>
<line x1="1609.63" y1="1352.00" x2="1609.63" y2="2275.50" stroke="#c8c8c8" stroke-width="6" stroke-dasharray="7.7 20.05"/>
<line x1="1650.83" y1="1352.00" x2="1650.83" y2="2275.50" stroke="#c8c8c8" stroke-width="6" stroke-dasharray="7.7 20.05"/>
<line x1="1687.16" y1="1352.00" x2="1687.16" y2="2275.50" stroke="#c8c8c8" stroke-width="6" stroke-dasharray="7.7 20.05"/>
<line x1="1933.50" y1="1352.00" x2="1933.50" y2="2275.50" stroke="#c8c8c8" stroke-width="6" stroke-dasharray="7.7 20.05"/>
<line x1="2058.58" y1="1352.00" x2="2058.58" y2="2275.50" stroke="#c8c8c8" stroke-width="6" stroke-dasharray="7.7 20.05"/>
<line x1="2147.33" y1="1352.00" x2="2147.33" y2="2275.50" stroke="#c8c8c8" stroke-width="6" stroke-dasharray="7.7 20.05"/>
<line x1="2216.17" y1="1352.00" x2="2216.17" y2="2275.50" stroke="#c8c8c8" stroke-width="6" stroke-dasharray="7.7 20.05"/>
<line x1="2272.41" y1="1352.00" x2="2272.41" y2="2275.50" stroke="#c8c8c8" stroke-width="6" stroke-dasharray="7.7 20.05"/>
<line x1="2319.97" y1="1352.00" x2="2319.97" y2="2275.50" stroke="#c8c8c8" stroke-width="6" stroke-dasharray="7.7 20.05"/>
<line x1="2361.16" y1="1352.00" x2="2361.16" y2="2275.50" stroke="#c8c8c8" stroke-width="6" stroke-dasharray="7.7 20.05"/>
<line x1="2397.50" y1="1352.00" x2="2397.50" y2="2275.50" stroke="#c8c8c8" stroke-width="6" stroke-dasharray="7.7 20.05"/>
<line x1="1009.33" y1="1352.50" x2="1009.33" y2="2275.50" stroke="#dedede" stroke-width="6"/>
<line x1="1719.67" y1="1352.50" x2="1719.67" y2="2275.50" stroke="#dedede" stroke-width="6"/>
<line x1="299.00" y1="1583.25" x2="2430.00" y2="1583.25" stroke="#dedede" stroke-width="6"/>
<line x1="299.00" y1="1814.00" x2="2430.00" y2="1814.00" stroke="#dedede" stroke-width="6"/>
<line x1="299.00" y1="2044.75" x2="2430.00" y2="2044.75" stroke="#dedede" stroke-width="6"/>
<path d="M512.83 1352.50V1365.50M512.83 2275.50V2262.50M637.92 1352.50V1365.50M637.92 2275.50V2262.50M726.66 1352.50V1365.50M726.66 2275.50V2262.50M795.50 1352.50V1365.50M795.50 2275.50V2262.50M851.75 1352.50V1365.50M851.75 2275.50V2262.50M899.30 1352.50V1365.50M899.30 2275.50V2262.50M940.49 1352.50V1365.50M940.49 2275.50V2262.50M976.83 1352.50V1365.50M976.83 2275.50V2262.50M1009.33 1352.50V1376.50M1009.33 2275.50V2251.50M1223.16 1352.50V1365.50M1223.16 2275.50V2262.50M1348.25 1352.50V1365.50M1348.25 2275.50V2262.50M1437.00 1352.50V1365.50M1437.00 2275.50V2262.50M1505.84 1352.50V1365.50M1505.84 2275.50V2262.50M1562.08 1352.50V1365.50M1562.08 2275.50V2262.50M1609.63 1352.50V1365.50M1609.63 2275.50V2262.50M1650.83 1352.50V1365.50M1650.83 2275.50V2262.50M1687.16 1352.50V1365.50M1687.16 2275.50V2262.50M1719.67 1352.50V1376.50M1719.67 2275.50V2251.50M1933.50 1352.50V1365.50M1933.50 2275.50V2262.50M2058.58 1352.50V1365.50M2058.58 2275.50V2262.50M2147.33 1352.50V1365.50M2147.33 2275.50V2262.50M2216.17 1352.50V1365.50M2216.17 2275.50V2262.50M2272.41 1352.50V1365.50M2272.41 2275.50V2262.50M2319.97 1352.50V1365.50M2319.97 2275.50V2262.50M2361.16 1352.50V1365.50M2361.16 2275.50V2262.50M2397.50 1352.50V1365.50M2397.50 2275.50V2262.50M299.00 1583.25H323.00M2430.00 1583.25H2406.00M299.00 1814.00H323.00M2430.00 1814.00H2406.00M299.00 2044.75H323.00M2430.00 2044.75H2406.00" stroke="#262626" stroke-width="6" fill="none"/>
<rect x="299.00" y="1352.50" width="2131.00" height="923.00" fill="none" stroke="#262626" stroke-width="5.6"/>
<g fill="none" stroke-width="5.6" stroke-linejoin="round" stroke-linecap="butt">
<path d="M299.0,1524.2C311.4,1527.0 348.7,1535.9 373.6,1541.0C398.4,1546.2 424.3,1551.2 448.2,1555.2C470.1,1558.8 490.1,1561.1 511.6,1564.1C533.6,1567.2 557.1,1570.7 578.7,1573.5C598.6,1576.0 615.1,1577.8 636.5,1580.2C663.0,1583.1 698.1,1586.7 726.0,1589.5C750.5,1592.0 773.2,1594.3 795.0,1596.2C814.6,1597.9 833.0,1599.1 850.9,1600.7C867.4,1602.1 883.2,1603.7 898.6,1605.2C913.0,1606.5 928.7,1607.1 940.4,1608.9C949.0,1610.2 956.8,1611.3 962.8,1613.7C967.2,1615.5 970.1,1617.6 973.6,1620.4C977.5,1623.5 982.0,1627.1 984.9,1631.7C988.2,1636.8 990.1,1643.0 991.7,1649.9C993.8,1658.4 994.2,1669.2 995.1,1679.4C996.1,1690.3 996.7,1701.2 997.4,1713.4C998.2,1727.4 999.0,1743.6 999.7,1758.7C1000.3,1773.8 1000.8,1789.0 1001.3,1804.1C1001.8,1819.2 1002.1,1834.3 1002.6,1849.4C1003.1,1864.6 1003.6,1879.7 1004.2,1894.8C1004.9,1909.9 1005.2,1926.1 1006.5,1940.1C1007.6,1952.3 1008.4,1964.7 1011.0,1974.1C1013.0,1981.3 1015.1,1987.7 1019.0,1992.3C1022.5,1996.5 1027.9,1999.1 1032.6,2001.4C1037.0,2003.5 1041.1,2003.9 1046.2,2005.9C1052.7,2008.4 1060.7,2014.2 1068.2,2015.8C1075.3,2017.4 1083.1,2016.2 1089.9,2015.8C1096.0,2015.5 1101.6,2013.9 1107.2,2014.1C1112.4,2014.3 1117.8,2017.6 1122.3,2016.9C1126.4,2016.4 1129.9,2014.3 1133.2,2011.5C1137.2,2008.0 1140.7,2001.5 1144.0,1996.4C1147.2,1991.4 1150.5,1987.0 1152.6,1981.2C1155.1,1974.4 1155.8,1966.0 1157.0,1957.4C1158.4,1947.4 1159.3,1935.8 1160.2,1924.9C1161.1,1914.1 1161.8,1904.4 1162.4,1892.5C1163.1,1877.9 1163.2,1861.1 1164.1,1843.9C1165.2,1824.5 1166.9,1799.4 1168.8,1782.1C1170.1,1769.5 1171.5,1749.7 1173.4,1749.6C1174.8,1749.5 1176.7,1759.1 1178.0,1766.6C1180.5,1780.7 1181.3,1807.7 1182.7,1828.5C1184.1,1849.6 1184.8,1874.7 1186.2,1892.5C1187.2,1905.1 1188.1,1914.5 1189.4,1924.9C1190.7,1934.7 1192.3,1943.9 1193.8,1953.1C1195.2,1961.9 1196.0,1971.4 1198.1,1979.0C1199.8,1985.5 1201.7,1991.6 1204.6,1996.4C1207.0,2000.3 1209.9,2003.6 1213.2,2006.1C1216.4,2008.6 1220.6,2010.0 1224.1,2011.5C1227.1,2012.8 1229.8,2014.0 1232.7,2014.8C1235.6,2015.5 1237.9,2015.5 1241.4,2015.8C1246.4,2016.3 1250.8,2016.6 1260.0,2016.9C1286.3,2018.0 1376.5,2019.6 1412.1,2020.2C1431.3,2020.5 1441.8,2020.4 1456.5,2020.6C1471.0,2020.8 1485.6,2021.1 1499.7,2021.3C1513.4,2021.4 1526.5,2020.8 1540.0,2021.3C1553.8,2021.7 1566.5,2023.7 1581.9,2024.2C1600.5,2024.9 1623.1,2024.2 1643.7,2024.2C1664.3,2024.2 1692.8,2023.4 1705.6,2024.2C1711.3,2024.6 1713.4,2025.9 1717.9,2025.8C1723.5,2025.7 1730.7,2024.3 1736.5,2022.7C1742.0,2021.2 1747.7,2019.3 1752.0,2016.5C1755.8,2014.0 1759.0,2011.6 1761.2,2007.2C1764.6,2000.8 1764.7,1991.0 1765.9,1979.4C1767.9,1960.1 1768.2,1926.4 1769.0,1902.1C1769.7,1880.3 1770.0,1860.8 1770.5,1840.2C1771.0,1819.6 1771.6,1800.1 1772.1,1778.4C1772.6,1754.0 1772.7,1724.3 1773.6,1701.0C1774.4,1681.8 1774.4,1662.1 1776.7,1648.5C1778.2,1639.6 1778.8,1631.7 1782.9,1626.8C1786.5,1622.5 1792.6,1620.9 1798.4,1619.1C1804.8,1617.1 1813.6,1616.5 1820.0,1616.0C1825.1,1615.6 1827.4,1615.7 1833.6,1615.6C1847.5,1615.5 1878.4,1615.2 1900.8,1615.6C1923.3,1616.0 1944.4,1617.0 1968.1,1618.0C1994.5,1619.0 2024.1,1620.3 2052.1,1621.7C2080.1,1623.0 2108.1,1624.2 2136.1,1626.1C2164.2,1627.9 2192.2,1630.3 2220.2,1632.8C2248.2,1635.2 2277.8,1638.1 2304.2,1640.8C2327.9,1643.3 2349.9,1646.1 2371.4,1648.6C2391.3,1650.9 2422.1,1654.5 2428.6,1655.3C2429.9,1655.5 2430.6,1655.5 2431.0,1655.6" stroke="#0072BD"/>
<polygon points="1411,2014 1430,2013.5 1460,2015.5 1490,2017.5 1490,2023.5 1460,2024.5 1430,2025.5 1411,2026" fill="#0072BD"/>
<path d="M299.0,2106.0C311.4,2103.8 348.7,2097.1 373.6,2092.9C398.4,2088.7 424.3,2084.5 448.2,2081.0C470.1,2077.7 486.9,2075.5 511.6,2072.4C546.2,2068.1 598.3,2061.9 636.5,2058.2C668.8,2055.1 698.1,2052.9 726.0,2051.1C750.4,2049.6 773.2,2048.8 795.0,2048.2C814.6,2047.6 833.0,2047.3 850.9,2047.4C867.4,2047.6 883.2,2048.3 898.6,2048.9C913.0,2049.5 926.9,2050.1 940.4,2051.1C953.0,2052.1 970.5,2053.9 976.9,2054.9C979.3,2055.2 979.5,2055.6 981.6,2055.9C986.2,2056.5 996.1,2057.2 1003.3,2057.4C1010.5,2057.7 1018.1,2057.9 1024.9,2057.4C1031.0,2056.9 1036.8,2056.4 1042.3,2054.8C1047.6,2053.3 1052.9,2051.0 1057.4,2048.3C1061.5,2045.9 1065.1,2043.3 1068.2,2039.7C1071.7,2035.6 1074.4,2029.8 1076.9,2024.5C1079.5,2019.0 1081.6,2013.0 1083.4,2007.2C1085.2,2001.5 1086.5,1996.0 1087.7,1989.9C1089.1,1983.1 1090.0,1975.5 1091.0,1968.2C1091.9,1961.0 1092.4,1953.8 1093.1,1946.6C1093.8,1939.4 1094.6,1932.9 1095.3,1924.9C1096.1,1915.2 1097.0,1904.4 1097.4,1892.5C1098.0,1877.9 1097.2,1861.1 1097.6,1843.9C1098.2,1824.5 1099.7,1802.7 1100.7,1782.1C1101.8,1761.4 1102.7,1739.3 1103.8,1720.2C1104.8,1703.6 1105.6,1689.3 1106.9,1673.8C1108.2,1658.3 1109.9,1642.0 1111.5,1627.4C1113.0,1614.4 1114.1,1601.4 1116.2,1590.3C1117.9,1581.2 1120.4,1565.6 1122.4,1565.6C1124.0,1565.5 1125.6,1574.6 1127.0,1581.0C1129.3,1591.2 1130.2,1610.5 1133.2,1621.2C1135.3,1628.8 1138.4,1639.8 1140.9,1639.8C1143.5,1639.8 1146.2,1627.9 1148.7,1621.2C1151.4,1613.6 1153.6,1596.6 1156.4,1596.5C1158.8,1596.4 1161.4,1610.0 1164.1,1615.1C1166.1,1618.8 1168.3,1624.4 1170.3,1624.3C1172.4,1624.3 1174.6,1616.8 1176.5,1613.5C1178.1,1610.7 1179.4,1605.8 1181.1,1605.8C1183.0,1605.7 1185.0,1612.6 1187.3,1615.1C1189.2,1617.1 1191.5,1619.8 1193.5,1619.7C1195.6,1619.5 1197.8,1615.4 1199.7,1613.5C1201.4,1611.9 1202.8,1608.7 1204.3,1608.9C1206.4,1609.1 1208.1,1617.5 1210.5,1618.1C1212.4,1618.6 1214.6,1615.3 1216.7,1615.1C1218.7,1614.8 1220.8,1616.1 1222.9,1616.6C1225.0,1617.1 1227.1,1617.4 1229.1,1618.1C1231.2,1618.9 1233.2,1620.5 1235.3,1621.2C1237.3,1622.0 1239.6,1621.6 1241.4,1622.8C1243.8,1624.3 1245.9,1627.5 1247.6,1630.5C1249.6,1634.0 1250.9,1638.9 1252.3,1642.9C1253.5,1646.6 1254.6,1649.2 1255.5,1653.8C1256.9,1661.5 1257.8,1673.4 1258.6,1684.7C1259.5,1698.6 1259.6,1714.6 1260.1,1731.1C1260.7,1750.3 1261.1,1772.4 1261.6,1793.0C1262.2,1813.6 1262.8,1835.5 1263.2,1854.9C1263.5,1872.0 1262.9,1887.6 1263.8,1903.3C1264.6,1918.1 1266.6,1933.2 1268.1,1946.6C1269.5,1958.2 1270.3,1969.7 1272.5,1979.0C1274.2,1986.5 1275.3,1993.1 1279.0,1998.5C1282.6,2003.9 1287.6,2008.1 1294.1,2011.5C1302.5,2015.9 1314.9,2018.5 1326.6,2020.2C1339.9,2022.1 1360.5,2029.7 1369.9,2021.3C1383.9,2008.7 1376.3,1953.9 1378.5,1924.9C1380.4,1901.2 1381.7,1881.8 1382.9,1860.0C1384.0,1837.8 1384.4,1814.9 1385.4,1793.0C1386.3,1772.0 1387.6,1748.2 1388.5,1731.1C1389.1,1719.1 1389.5,1710.5 1390.0,1700.2C1390.5,1689.9 1390.9,1680.8 1391.5,1669.3C1392.4,1654.8 1389.9,1622.9 1395.0,1620.0C1397.4,1618.6 1402.4,1621.1 1405.0,1625.0C1411.7,1635.1 1408.8,1670.3 1410.0,1700.0C1411.7,1743.3 1411.4,1818.5 1412.0,1860.0C1412.4,1886.4 1412.0,1905.5 1413.2,1924.9C1414.1,1940.8 1415.1,1956.4 1417.5,1968.2C1419.2,1976.8 1420.9,1983.5 1424.0,1989.9C1426.8,1995.6 1429.8,2001.3 1434.8,2005.0C1440.3,2009.2 1449.1,2010.8 1456.5,2012.6C1463.6,2014.4 1470.9,2014.9 1478.1,2015.8C1485.3,2016.7 1491.4,2017.4 1499.7,2018.0C1511.1,2018.9 1526.5,2019.4 1540.0,2020.2C1553.8,2021.0 1566.5,2022.2 1581.9,2022.7C1600.5,2023.2 1623.1,2022.7 1643.7,2022.7C1664.3,2022.7 1688.5,2023.1 1705.6,2022.7C1717.7,2022.4 1727.6,2022.5 1736.5,2021.1C1743.5,2020.1 1749.6,2018.5 1755.1,2016.5C1759.7,2014.8 1764.4,2013.6 1767.4,2010.3C1770.8,2006.7 1772.0,2001.5 1773.6,1994.9C1776.3,1983.7 1777.0,1965.9 1778.3,1948.5C1779.8,1926.0 1780.6,1895.5 1781.3,1871.1C1782.1,1849.4 1782.4,1831.0 1782.9,1809.3C1783.4,1784.9 1783.6,1756.3 1784.4,1732.0C1785.2,1710.2 1785.8,1687.2 1787.5,1670.1C1788.7,1658.0 1789.1,1647.2 1792.2,1639.2C1794.4,1633.3 1797.1,1628.4 1801.4,1625.3C1806.1,1621.9 1815.3,1621.4 1820.0,1620.6C1822.8,1620.1 1823.9,1620.3 1826.9,1620.0C1832.4,1619.5 1841.1,1618.4 1850.4,1618.0C1864.1,1617.3 1882.8,1617.2 1900.8,1617.3C1921.6,1617.4 1944.4,1618.2 1968.1,1619.0C1994.5,1619.9 2024.1,1621.1 2052.1,1622.4C2080.1,1623.6 2108.1,1624.9 2136.1,1626.7C2164.2,1628.6 2192.2,1631.0 2220.2,1633.4C2248.2,1635.9 2277.8,1638.7 2304.2,1641.5C2327.9,1644.0 2349.9,1646.7 2371.4,1649.2C2391.3,1651.5 2422.1,1655.2 2428.6,1656.0C2429.9,1656.1 2430.6,1656.2 2431.0,1656.3" stroke="#D95319"/>
<path d="M299.0,2163.8C311.4,2161.5 348.7,2154.6 373.6,2150.0C398.4,2145.3 424.3,2140.2 448.2,2135.8C470.1,2131.8 486.9,2128.8 511.6,2124.6C546.2,2118.7 598.3,2110.2 636.5,2104.1C668.8,2099.0 698.0,2093.8 726.0,2090.3C750.4,2087.2 773.1,2084.8 795.0,2083.6C814.6,2082.5 833.0,2082.3 850.9,2082.8C867.4,2083.3 883.3,2083.8 898.6,2086.2C913.1,2088.5 927.9,2092.0 940.4,2096.6C951.4,2100.7 961.3,2105.7 970.2,2111.6C978.6,2117.0 986.7,2124.2 992.6,2130.2C997.1,2134.8 999.8,2138.9 1003.3,2143.5C1007.0,2148.4 1010.7,2153.1 1014.1,2158.7C1018.0,2165.1 1021.9,2173.5 1024.9,2180.3C1027.6,2186.4 1029.6,2192.0 1031.4,2197.7C1033.1,2202.8 1034.6,2207.7 1035.8,2212.8C1036.9,2217.8 1037.7,2228.0 1038.4,2228.0C1039.6,2227.9 1038.9,2188.4 1039.0,2163.0C1039.2,2127.2 1039.2,2079.6 1039.2,2033.2C1039.3,1979.6 1039.2,1922.0 1039.2,1860.0C1039.3,1788.1 1039.5,1696.7 1039.6,1627.0C1039.7,1570.4 1039.5,1513.0 1039.8,1473.0C1040.0,1447.4 1038.9,1410.2 1040.6,1410.0C1041.8,1409.9 1044.7,1430.2 1046.6,1441.9C1048.8,1455.8 1050.6,1473.3 1052.8,1488.2C1054.8,1502.1 1056.8,1516.0 1059.0,1528.5C1060.9,1539.5 1063.1,1549.1 1065.2,1559.4C1067.2,1569.7 1069.2,1580.6 1071.3,1590.3C1073.3,1599.0 1074.6,1608.0 1077.5,1615.1C1080.0,1621.0 1083.2,1627.1 1086.8,1630.5C1089.6,1633.1 1093.2,1635.7 1096.1,1635.2C1099.5,1634.5 1102.5,1628.6 1105.4,1624.3C1108.8,1619.1 1111.5,1611.0 1114.6,1605.8C1117.2,1601.6 1119.8,1595.0 1122.4,1595.0C1125.0,1595.0 1127.6,1601.9 1130.1,1605.8C1132.8,1610.1 1135.1,1617.4 1137.8,1619.7C1139.3,1620.9 1141.0,1621.8 1142.5,1621.2C1144.8,1620.4 1146.3,1613.8 1148.7,1610.4C1151.0,1607.1 1153.9,1601.0 1156.4,1601.1C1159.0,1601.2 1161.6,1608.7 1164.1,1612.0C1166.3,1614.8 1168.3,1619.8 1170.3,1619.7C1172.4,1619.6 1174.5,1613.2 1176.5,1610.4C1178.1,1608.1 1179.5,1604.2 1181.1,1604.2C1183.1,1604.3 1185.0,1611.1 1187.3,1613.5C1189.2,1615.5 1191.6,1618.5 1193.5,1618.1C1195.8,1617.8 1197.6,1611.0 1199.7,1608.9C1201.2,1607.4 1202.8,1605.5 1204.3,1605.8C1206.5,1606.2 1208.3,1614.8 1210.5,1615.1C1212.5,1615.2 1214.5,1609.5 1216.7,1608.9C1218.6,1608.3 1220.8,1609.9 1222.9,1610.4C1225.0,1610.9 1227.0,1612.0 1229.1,1612.0C1231.1,1612.0 1233.2,1610.2 1235.3,1610.4C1237.4,1610.6 1239.1,1612.7 1241.4,1613.5C1244.2,1614.4 1247.8,1614.2 1250.7,1615.1C1253.5,1615.8 1255.9,1617.0 1258.6,1618.3C1261.5,1619.6 1265.3,1620.6 1267.8,1622.9C1270.5,1625.2 1272.4,1628.2 1274.0,1632.2C1276.4,1637.7 1277.4,1645.9 1278.7,1653.8C1280.1,1663.2 1280.9,1672.1 1281.8,1684.7C1283.1,1704.7 1284.1,1737.7 1284.8,1762.1C1285.6,1783.8 1285.6,1803.3 1286.4,1823.9C1287.2,1844.5 1289.0,1871.5 1289.5,1885.8C1289.7,1893.4 1289.4,1896.2 1289.8,1903.3C1290.4,1914.5 1292.6,1933.2 1294.1,1946.6C1295.5,1958.2 1296.1,1970.4 1298.4,1979.0C1300.1,1985.2 1301.7,1990.5 1304.9,1994.2C1307.7,1997.4 1311.8,2000.4 1315.8,2000.7C1320.3,2001.0 1326.3,1996.1 1330.9,1994.2C1334.8,1992.6 1339.1,1991.6 1341.7,1989.9C1343.7,1988.6 1344.8,1987.7 1346.1,1985.5C1348.1,1981.9 1349.2,1974.3 1350.4,1968.2C1351.7,1961.4 1352.7,1955.1 1353.6,1946.6C1355.0,1934.6 1355.8,1917.7 1356.9,1903.3C1358.0,1888.9 1359.3,1877.3 1360.1,1860.0C1361.4,1833.9 1361.4,1788.7 1362.2,1762.1C1362.7,1743.7 1363.1,1729.6 1363.7,1715.7C1364.2,1704.3 1364.5,1695.0 1365.3,1684.7C1366.0,1674.4 1366.8,1662.8 1368.4,1653.8C1369.6,1646.8 1370.8,1640.2 1373.0,1635.3C1374.7,1631.5 1376.5,1628.5 1379.2,1626.0C1382.1,1623.3 1385.7,1621.1 1390.0,1619.8C1395.5,1618.1 1402.7,1618.0 1410.1,1618.3C1419.3,1618.6 1431.8,1620.3 1441.0,1622.9C1449.1,1625.2 1457.1,1629.1 1462.7,1632.2C1466.5,1634.3 1469.4,1635.8 1472.0,1638.4C1474.5,1640.9 1476.4,1644.0 1478.1,1647.6C1480.2,1652.0 1481.5,1657.5 1482.8,1663.1C1484.2,1669.7 1485.0,1676.2 1485.9,1684.7C1487.2,1697.3 1488.0,1714.6 1489.0,1731.1C1490.1,1750.3 1491.0,1772.4 1492.1,1793.0C1493.1,1813.6 1493.8,1835.5 1495.2,1854.9C1496.4,1872.0 1498.2,1887.6 1499.7,1903.3C1501.2,1918.1 1502.1,1933.2 1504.1,1946.6C1505.8,1958.2 1507.0,1970.2 1510.6,1979.0C1513.3,1986.0 1516.8,1992.4 1521.4,1996.4C1525.4,1999.8 1530.6,2000.6 1535.5,2002.6C1540.5,2004.7 1544.8,2007.1 1550.9,2008.8C1559.4,2011.1 1571.5,2012.4 1581.9,2013.4C1592.1,2014.4 1602.5,2014.5 1612.8,2015.0C1623.1,2015.4 1633.4,2015.6 1643.7,2015.9C1654.0,2016.1 1664.3,2016.3 1674.6,2016.5C1685.0,2016.7 1695.3,2016.9 1705.6,2017.1C1715.9,2017.4 1726.2,2017.7 1736.5,2018.0C1746.8,2018.4 1757.1,2018.7 1767.4,2019.0C1777.7,2019.2 1789.0,2019.3 1798.4,2019.6C1806.2,2019.8 1811.4,2020.2 1820.0,2020.5C1832.7,2020.9 1850.1,2021.1 1867.2,2021.7C1887.7,2022.4 1912.1,2023.5 1934.5,2024.7C1956.9,2025.9 1979.3,2027.6 2001.7,2029.1C2024.1,2030.5 2046.5,2031.8 2068.9,2033.4C2091.3,2035.1 2113.7,2037.1 2136.1,2039.2C2158.6,2041.2 2181.0,2043.5 2203.4,2045.9C2225.8,2048.2 2248.2,2051.0 2270.6,2053.3C2293.0,2055.5 2313.7,2056.9 2337.8,2059.3C2365.8,2062.1 2420.1,2068.5 2428.6,2069.4C2430.0,2069.6 2430.6,2069.6 2431.0,2069.7" stroke="#EDB120"/>
<path d="M299.0,2100.4C311.4,2098.2 348.7,2091.5 373.6,2087.3C398.4,2083.2 424.3,2078.8 448.2,2075.4C470.1,2072.3 486.9,2070.4 511.6,2067.6C546.2,2063.6 598.3,2058.2 636.5,2054.5C668.8,2051.3 698.1,2048.6 726.0,2046.3C750.4,2044.3 773.2,2042.6 795.0,2041.4C814.6,2040.4 833.0,2040.0 850.9,2039.6C867.4,2039.2 883.2,2039.2 898.6,2039.2C913.0,2039.2 924.7,2039.4 940.4,2039.6C960.4,2039.8 994.1,2041.6 1009.0,2040.7C1016.2,2040.3 1019.2,2039.5 1024.9,2038.6C1031.6,2037.5 1039.4,2036.2 1046.6,2034.2C1053.9,2032.2 1062.0,2029.5 1068.2,2026.7C1073.2,2024.4 1076.9,2021.6 1081.2,2019.1C1085.5,2016.6 1090.4,2013.3 1094.2,2011.5C1097.0,2010.2 1099.5,2008.8 1101.8,2008.9C1103.8,2009.0 1105.5,2009.9 1107.2,2011.5C1109.7,2014.0 1111.2,2020.6 1113.7,2024.5C1116.0,2028.1 1118.6,2034.1 1121.3,2034.2C1123.7,2034.4 1126.4,2029.8 1128.8,2026.7C1131.9,2022.6 1134.5,2014.5 1137.5,2011.5C1139.3,2009.7 1141.3,2007.8 1142.9,2008.3C1145.0,2008.8 1146.4,2014.2 1148.3,2018.0C1150.7,2022.9 1153.3,2035.3 1155.9,2035.3C1158.3,2035.4 1160.8,2024.9 1163.5,2020.2C1165.9,2015.9 1168.8,2008.1 1171.0,2008.3C1173.2,2008.4 1174.9,2015.9 1176.5,2020.2C1178.2,2024.9 1179.0,2035.2 1180.8,2035.3C1182.6,2035.4 1185.2,2025.0 1187.3,2020.2C1189.2,2015.7 1191.1,2007.1 1192.7,2007.2C1194.4,2007.3 1195.7,2017.4 1197.0,2022.3C1198.2,2027.1 1198.9,2036.3 1200.3,2036.4C1201.7,2036.5 1204.0,2025.3 1205.7,2020.2C1207.2,2015.6 1208.7,2007.1 1210.0,2007.2C1211.4,2007.3 1212.5,2019.1 1213.7,2024.5C1214.7,2029.1 1215.4,2037.5 1216.5,2037.5C1217.7,2037.5 1219.5,2025.8 1220.8,2020.2C1222.0,2015.0 1222.9,2005.0 1224.1,2005.0C1225.4,2005.0 1227.0,2018.5 1228.4,2024.5C1229.5,2029.6 1230.6,2038.6 1231.6,2038.6C1232.8,2038.5 1233.8,2026.1 1234.9,2020.2C1235.9,2014.6 1237.1,2003.9 1238.1,2003.9C1239.3,2004.0 1240.4,2018.3 1241.4,2024.5C1242.2,2029.6 1242.7,2038.6 1243.5,2038.6C1244.5,2038.6 1245.7,2026.1 1246.8,2020.2C1247.8,2014.6 1249.0,2003.9 1250.0,2003.9C1251.2,2004.0 1252.5,2018.2 1253.3,2024.5C1254.0,2029.9 1254.6,2037.1 1254.8,2039.7" stroke="#7E2F8E"/>
<path d="M1520.0,1612.9C1522.6,1612.9 1530.3,1612.4 1535.5,1612.9C1540.6,1613.4 1545.8,1614.5 1550.9,1616.0C1556.2,1617.5 1561.7,1619.3 1566.4,1622.2C1571.0,1625.0 1575.7,1628.2 1578.8,1633.0C1582.3,1638.6 1583.3,1646.0 1584.9,1654.6C1587.3,1667.1 1588.4,1683.6 1589.6,1701.0C1591.2,1723.5 1591.7,1751.4 1592.7,1778.4C1593.8,1807.9 1594.6,1843.3 1595.8,1871.1C1596.7,1893.8 1597.3,1915.0 1598.9,1933.0C1600.1,1947.0 1600.6,1959.6 1603.5,1970.1C1605.8,1978.5 1608.4,1986.0 1612.8,1991.8C1616.8,1997.1 1622.7,2001.9 1628.2,2004.1C1633.1,2006.1 1638.9,2006.3 1643.7,2005.7C1648.1,2005.1 1652.6,2003.9 1656.1,2001.0C1660.1,1997.7 1663.0,1992.1 1665.4,1985.6C1668.8,1976.1 1670.0,1962.5 1671.5,1948.5C1673.5,1930.5 1673.7,1908.4 1674.6,1886.6C1675.7,1862.3 1676.7,1835.1 1677.7,1809.3C1678.8,1783.5 1679.6,1753.5 1680.8,1732.0C1681.7,1716.4 1682.5,1702.8 1683.9,1691.8C1684.9,1683.9 1686.3,1671.7 1687.6,1671.7C1688.9,1671.6 1690.4,1683.9 1691.7,1691.8C1693.4,1702.8 1695.0,1718.1 1696.3,1732.0C1697.6,1746.9 1698.5,1760.9 1699.4,1778.4C1700.6,1800.8 1701.4,1829.9 1702.5,1855.7C1703.5,1881.4 1704.3,1910.9 1705.6,1933.0C1706.5,1949.5 1705.6,1967.4 1708.7,1976.3C1710.2,1980.8 1712.0,1982.5 1714.8,1985.6C1718.6,1989.7 1724.3,1995.1 1730.3,1997.9C1736.6,2000.9 1744.1,2001.5 1752.0,2002.6C1761.3,2003.8 1772.1,2003.6 1782.9,2004.1C1794.7,2004.7 1810.7,2005.9 1820.0,2005.7C1825.7,2005.6 1828.1,2004.7 1833.6,2004.5C1842.3,2004.2 1854.1,2004.5 1867.2,2004.9C1885.8,2005.4 1912.1,2006.7 1934.5,2007.9C1956.9,2009.1 1979.3,2010.7 2001.7,2012.3C2024.1,2013.8 2046.5,2015.4 2068.9,2017.3C2091.3,2019.3 2113.7,2021.5 2136.1,2024.0C2158.6,2026.6 2181.0,2029.5 2203.4,2032.4C2225.8,2035.4 2248.2,2038.4 2270.6,2041.5C2293.0,2044.6 2313.7,2047.7 2337.8,2050.9C2365.8,2054.7 2420.1,2061.6 2428.6,2062.7C2430.0,2062.9 2430.6,2063.0 2431.0,2063.0" stroke="#7E2F8E"/>
<path d="M1250.0,2003.9C1250.6,2007.4 1252.5,2018.2 1253.3,2024.5C1254.0,2029.9 1254.2,2039.7 1254.8,2039.7C1255.8,2039.7 1257.3,2003.8 1258.8,2003.8C1260.2,2003.8 1262.0,2039.7 1263.5,2039.7C1265.1,2039.7 1266.6,2002.8 1268.1,2002.8C1269.6,2002.8 1270.9,2040.4 1272.3,2040.4C1273.8,2040.4 1275.2,2001.9 1276.6,2001.9C1278.0,2001.9 1279.2,2041.0 1280.5,2041.0C1281.9,2041.0 1283.2,2001.0 1284.5,2001.0C1285.8,2001.0 1287.1,2041.7 1288.5,2041.7C1289.9,2041.7 1291.4,1998.9 1292.8,1998.9C1294.1,1998.9 1295.5,2042.5 1296.8,2042.5C1298.0,2042.5 1299.1,1997.1 1300.2,1997.1C1301.3,1997.1 1302.3,2043.2 1303.4,2043.2C1304.4,2043.2 1305.4,1995.5 1306.4,1995.5C1307.4,1995.5 1308.4,2044.2 1309.3,2044.2C1310.2,2044.2 1311.1,1994.1 1312.0,1994.1C1312.9,1994.1 1313.8,2045.3 1314.6,2045.3C1315.5,2045.3 1316.3,1992.9 1317.1,1992.9C1317.9,1992.9 1318.7,2046.2 1319.4,2046.2C1320.2,2046.2 1320.9,1991.7 1321.7,1991.7C1322.4,1991.7 1323.1,2047.1 1323.8,2047.1C1324.5,2047.1 1325.2,1990.7 1325.8,1990.7C1326.5,1990.7 1327.1,2048.0 1327.8,2048.0C1328.4,2048.0 1329.0,1989.8 1329.6,1989.8C1330.2,1989.8 1330.8,2048.9 1331.4,2048.9C1332.0,2048.9 1332.6,1988.9 1333.1,1988.9C1333.7,1988.9 1334.2,2049.7 1334.8,2049.7C1335.3,2049.7 1335.8,1988.1 1336.3,1988.1C1336.8,1988.1 1337.3,2050.5 1337.8,2050.5C1338.3,2050.5 1338.8,1987.4 1339.3,1987.4C1339.8,1987.4 1340.2,2051.5 1340.7,2051.5C1341.1,2051.5 1341.6,1985.8 1342.0,1985.8C1342.5,1985.8 1342.9,2053.0 1343.3,2053.0C1343.7,2053.0 1344.3,1995.6 1344.5,1984.1" stroke="#7E2F8E"/>
<polygon points="1300.0,1994.0 1326.6,1987.7 1339.6,1984.5 1348.2,1979.0 1361.2,1968.2 1374.2,1955.2 1378.5,1929.3 1385.0,1903.3 1389.7,1863.0 1389.7,1519.7 1404.0,1519.0 1408.0,1500.0 1413.2,1484.0 1417.8,1490.0 1422.5,1514.6 1425.6,1545.6 1431.8,1576.5 1456.5,1585.8 1487.4,1595.0 1518.4,1604.3 1540.0,1607.4 1550.0,1609.0 1562.0,1610.5 1562.0,1618.0 1550.0,1620.0 1540.0,1621.5 1518.4,1619.0 1487.4,1627.0 1456.5,1634.0 1431.8,1648.0 1425.6,1680.0 1425.6,1708.0 1417.6,1710.0 1417.6,1845.0 1413.0,1847.0 1412.0,2049.0 1410.0,2066.0 1403.0,2075.0 1396.0,2090.0 1392.0,2095.0 1380.7,2089.4 1369.9,2074.3 1354.7,2061.3 1337.4,2053.7 1326.6,2050.5 1304.9,2046.1 1300.0,2045.0" fill="#7E2F8E" stroke="#7E2F8E" stroke-width="1.5" stroke-linejoin="round"/>
<path d="M1396.6,1520V1400.5M1411.5,1520V1403.5" stroke="#7E2F8E" stroke-width="4.2"/>
<path d="M1388.2,2080V2124" stroke="#7E2F8E" stroke-width="8.5" stroke-linecap="round"/>
<path d="M1399.6,2080V2162.5M1406.1,2060V2216.5" stroke="#7E2F8E" stroke-width="5.6" stroke-linecap="round"/>
</g>
<text x="273.5" y="1380.00" text-anchor="end" class="tl">200</text>
<text x="273.5" y="1610.75" text-anchor="end" class="tl">100</text>
<text x="273.5" y="1841.50" text-anchor="end" class="tl">0</text>
<text x="273.5" y="2072.25" text-anchor="end" class="tl">-100</text>
<text x="273.5" y="2303.00" text-anchor="end" class="tl">-200</text>
<text x="237.40" y="2407.50" class="tl">10<tspan class="sup" dx="-1.8" dy="-42">0</tspan></text>
<text x="947.73" y="2407.50" class="tl">10<tspan class="sup" dx="-1.8" dy="-42">1</tspan></text>
<text x="1658.07" y="2407.50" class="tl">10<tspan class="sup" dx="-1.8" dy="-42">2</tspan></text>
<text x="2368.40" y="2407.50" class="tl">10<tspan class="sup" dx="-1.8" dy="-42">3</tspan></text>
<text x="1362.5" y="2506.50" text-anchor="middle" class="tl" style="font-size:83.6px">Frequency (Hz)</text>
<text transform="translate(81 1814.00) rotate(-90)" text-anchor="middle" class="tl" style="font-size:83.4px">Phase delay (degrees)</text>
<rect x="1964.7" y="104" width="388.6" height="339" fill="#ffffff" stroke="#262626" stroke-width="5.4"/>
<line x1="1992" y1="154.6" x2="2271" y2="154.6" stroke="#0072BD" stroke-width="5.6"/>
<text x="2291" y="177.6" class="lg">1</text>
<line x1="1992" y1="233.7" x2="2271" y2="233.7" stroke="#D95319" stroke-width="5.6"/>
<text x="2291" y="256.7" class="lg">2</text>
<line x1="1992" y1="312.7" x2="2271" y2="312.7" stroke="#EDB120" stroke-width="5.6"/>
<text x="2291" y="335.7" class="lg">3</text>
<line x1="1992" y1="392.0" x2="2271" y2="392.0" stroke="#7E2F8E" stroke-width="5.6"/>
<text x="2291" y="415.0" class="lg">4</text>
</svg>
</body></html>
